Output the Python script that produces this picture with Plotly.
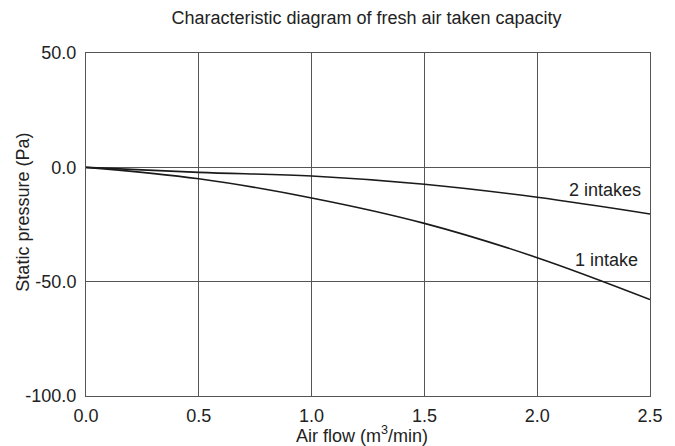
import plotly.graph_objects as go

air_flow = [0.0, 0.5, 1.0, 1.5, 2.0, 2.5]
one_intake = [0.0, -5.0, -13.4, -24.5, -39.5, -57.8]
two_intakes = [0.0, -2.2, -3.8, -7.4, -13.1, -20.4]
x_ticks = [0.0, 0.5, 1.0, 1.5, 2.0, 2.5]
y_ticks = [-100.0, -50.0, 0.0, 50.0]

font = "Liberation Sans, Arial, sans-serif"
txt = "#222"

fig = go.Figure()
fig.add_trace(go.Scatter(x=air_flow, y=one_intake, mode="lines",
                         line=dict(color="#1a1a1a", width=1.6, shape="spline"),
                         showlegend=False))
fig.add_trace(go.Scatter(x=air_flow, y=two_intakes, mode="lines",
                         line=dict(color="#1a1a1a", width=1.6, shape="spline"),
                         showlegend=False))

fig.add_annotation(x=2.469, y=-10.0, text="2 intakes", showarrow=False,
                   xanchor="right", yanchor="middle",
                   font=dict(family=font, size=18, color=txt))
fig.add_annotation(x=2.456, y=-40.5, text="1 intake", showarrow=False,
                   xanchor="right", yanchor="middle",
                   font=dict(family=font, size=18, color=txt))

# axis titles
fig.add_annotation(xref="paper", yref="paper", x=-0.112, y=0.537,
                   text="Static pressure (Pa)", textangle=-90, showarrow=False,
                   xanchor="center", yanchor="middle",
                   font=dict(family=font, size=18, color=txt))
fig.add_annotation(xref="paper", yref="paper", x=0.489, y=-0.112,
                   text="Air flow (m<sup>3</sup>/min)", showarrow=False,
                   xanchor="center", yanchor="middle",
                   font=dict(family=font, size=18, color=txt))

fig.update_layout(
    width=667, height=438,
    margin=dict(l=78, r=17, t=45, b=50),
    paper_bgcolor="white", plot_bgcolor="white",
    title=dict(text="Characteristic diagram of fresh air taken capacity",
               x=0.5375, xanchor="center", y=0.977, yanchor="middle",
               font=dict(family=font, size=18, color=txt)),
    font=dict(family=font, size=18, color=txt),
)
fig.update_xaxes(range=[0, 2.5], tickvals=x_ticks,
                 ticktext=[f"{v:.1f}" for v in x_ticks],
                 showgrid=True, gridcolor="#555", gridwidth=1,
                 showline=True, linecolor="#555", linewidth=1, mirror=True,
                 zeroline=False, ticks="", ticklen=0, ticklabelstandoff=3,
                 tickfont=dict(family=font, size=18, color=txt))
fig.update_yaxes(range=[-100, 50], tickvals=y_ticks,
                 ticktext=[f"{v:.1f}" for v in y_ticks],
                 showgrid=True, gridcolor="#555", gridwidth=1,
                 showline=True, linecolor="#555", linewidth=1, mirror=True,
                 zeroline=False, ticks="", ticklen=0, ticklabelstandoff=5,
                 tickfont=dict(family=font, size=18, color=txt))

fig.write_html("out.html")
